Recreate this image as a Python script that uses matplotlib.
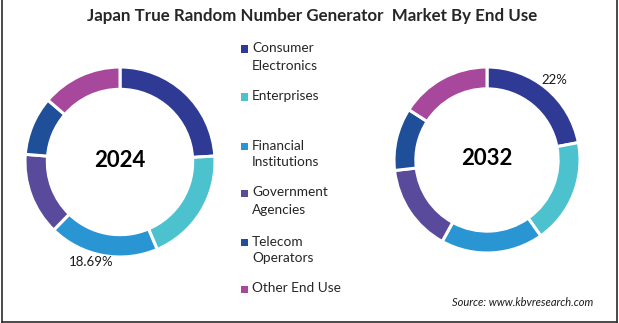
import matplotlib
matplotlib.use("Agg")
import matplotlib.pyplot as plt
from matplotlib.patches import Rectangle
from matplotlib.lines import Line2D

plt.rcParams['font.family'] = ['Lato', 'DejaVu Sans']

categories = ["Consumer\nElectronics", "Enterprises", "Financial\nInstitutions",
              "Government\nAgencies", "Telecom\nOperators", "Other End Use"]
values_2024 = [24.0, 19.6, 18.69, 14.0, 10.0, 13.71]
values_2032 = [22.0, 18.2, 17.8, 15.2, 10.9, 15.9]
colors = ["#2E3A93", "#4BC2CE", "#2A95D3", "#5A4A9C", "#1E4F98", "#A7489C"]
title = "Japan True Random Number Generator  Market By End Use"

W, H = 619, 323
fig = plt.figure(figsize=(W / 100, H / 100), dpi=100)
fig.patch.set_facecolor("white")

def px_axes(cx, cy, r):
    s = 1.2
    return fig.add_axes([(cx - r * s) / W, 1 - (cy + r * s) / H, 2 * r * s / W, 2 * r * s / H])

def donut(ax, vals, year):
    ax.pie(vals, colors=colors, startangle=90, counterclock=False, radius=1.0,
           wedgeprops=dict(width=0.235, edgecolor="white", linewidth=2.2))
    ax.set_xlim(-1.2, 1.2)
    ax.set_ylim(-1.2, 1.2)
    ax.set_aspect("equal")
    ax.axis("off")
    ax.text(0, 0.02, year, ha="center", va="center", fontsize=16, fontweight="bold", color="black")

ax1 = px_axes(120, 162, 95)
donut(ax1, values_2024, "2024")
ax2 = px_axes(487, 160, 93)
donut(ax2, values_2032, "2032")

fig.text(91 / W, 1 - 262 / H, f"{values_2024[2]:.2f}%", ha="center", va="center", fontsize=9.5, color="#1a1a1a")
fig.text(554 / W, 1 - 80 / H, f"{values_2032[0]:.0f}%", ha="center", va="center", fontsize=9.5, color="#1a1a1a")

fig.text(312 / W, 1 - 16 / H, title, ha="center", va="center", fontsize=12.2, fontweight="bold", color="#262626")

# legend
ys = [49, 97, 146, 193, 242, 289]
for lab, col, y in zip(categories, colors, ys):
    fig.patches.append(Rectangle(((241) / W, 1 - (y + 3.5) / H), 7 / W, 7 / H,
                                 transform=fig.transFigure, facecolor=col, edgecolor="none"))
    fig.text(252 / W, 1 - (y - 6.5) / H, lab, ha="left", va="top", fontsize=9.8,
             color="#262626", linespacing=1.5)

fig.text(593 / W, 1 - 303 / H, "Source: www.kbvresearch.com", ha="right", va="center",
         fontsize=8, style="italic", color="#1a1a1a")

# frame
for xs, ys_ in [([1.5, 1.5], [0, 322]), ([616.5, 616.5], [0, 322]), ([1.5, 616.5], [321.5, 321.5])]:
    fig.add_artist(Line2D([x / W for x in xs], [1 - y / H for y in ys_], transform=fig.transFigure,
                          color="#2b2b2b", linewidth=1.2))

fig.savefig("out.png", dpi=100, facecolor="white")
